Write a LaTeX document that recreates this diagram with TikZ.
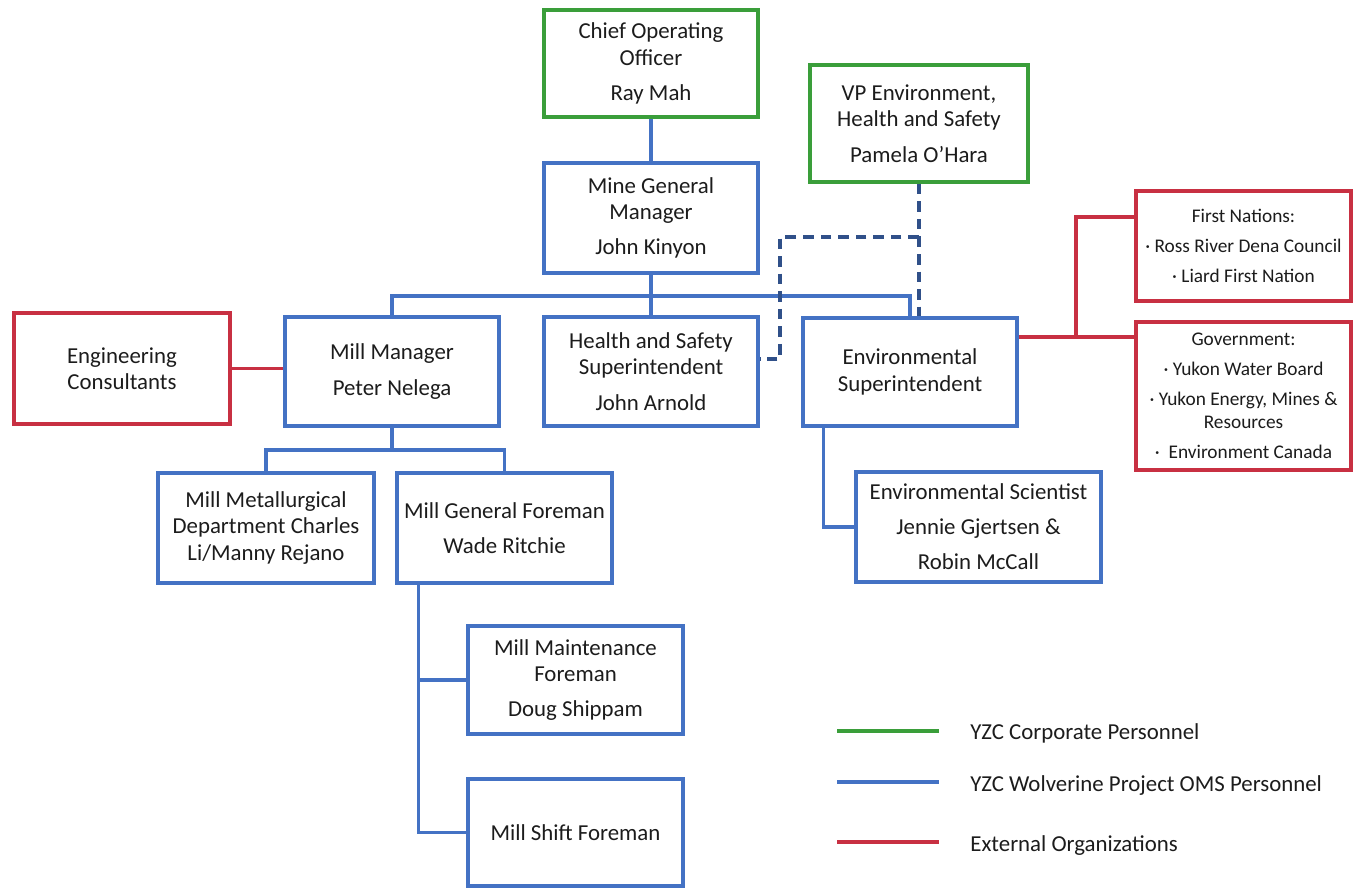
\documentclass[tikz,border=0pt]{standalone}
\usepackage{fontspec}
\setmainfont{Carlito}
\definecolor{cgreen}{RGB}{58,158,58}
\definecolor{cblue}{RGB}{68,114,196}
\definecolor{cred}{RGB}{200,48,66}
\definecolor{ctext}{RGB}{28,28,28}
\begin{document}
\begin{tikzpicture}[x=0.02cm,y=-0.02cm,
  base/.style={rectangle,draw,line width=2pt,inner sep=0pt,align=center,text=ctext,
    font=\fontsize{13}{15}\selectfont},
  gbox/.style={base,draw=cgreen},
  bbox/.style={base,draw=cblue},
  rbox/.style={base,draw=cred},
  sbox/.style={base,draw=cred,font=\fontsize{11}{13.5}\selectfont},
  bl/.style={draw=cblue,line width=2pt},
  gl/.style={draw=cgreen,line width=2pt},
  rl/.style={draw=cred,line width=2pt},
  dl/.style={draw=cblue!70!black,line width=2pt,dash pattern=on 6pt off 4pt},
  legtext/.style={anchor=west,inner sep=0pt,text=ctext,font=\fontsize{13}{15}\selectfont}
]
\useasboundingbox (0,0) rectangle (1358,888);
\fill[white] (0,0) rectangle (1358,888);

% boxes
\node[gbox,minimum width=4.28cm,minimum height=2.14cm] (coo) at (651,63.5) {Chief Operating\\Officer\\[5pt]Ray Mah};
\node[gbox,minimum width=4.36cm,minimum height=2.34cm] (vp) at (919,123.5) {VP Environment,\\Health and Safety\\[5pt]Pamela O’Hara};
\node[bbox,minimum width=4.28cm,minimum height=2.2cm] (mgm) at (651,218) {Mine General\\Manager\\[5pt]John Kinyon};
\node[bbox,minimum width=4.28cm,minimum height=2.18cm] (mm) at (392,371.5) {Mill Manager\\[5pt]Peter Nelega};
\node[bbox,minimum width=4.28cm,minimum height=2.18cm] (hs) at (651,371.5) {Health and Safety\\Superintendent\\[5pt]John Arnold};
\node[bbox,minimum width=4.28cm,minimum height=2.16cm] (env) at (910,372) {Environmental\\Superintendent};
\node[rbox,minimum width=4.32cm,minimum height=2.22cm] (eng) at (122,368.5) {Engineering\\Consultants};
\node[sbox,minimum width=4.3cm,minimum height=2.2cm] (fn) at (1243.5,246) {First Nations:\\[3.5pt]· Ross River Dena Council\\[3.5pt]· Liard First Nation};
\node[sbox,minimum width=4.3cm,minimum height=2.96cm] (gov) at (1243.5,396) {Government:\\[3.5pt]· Yukon Water Board\\[3.5pt]· Yukon Energy, Mines \&\\Resources\\[3.5pt]·\ \ Environment Canada};
\node[bbox,minimum width=4.9cm,minimum height=2.2cm] (es) at (978.5,527) {Environmental Scientist\\[5pt]Jennie Gjertsen \&\\[5pt]Robin McCall};
\node[bbox,minimum width=4.32cm,minimum height=2.2cm] (mmet) at (266,528) {Mill Metallurgical\\Department Charles\\Li/Manny Rejano};
\node[bbox,minimum width=4.3cm,minimum height=2.2cm] (mgf) at (504.5,528) {Mill General Foreman\\[5pt]Wade Ritchie};
\node[bbox,minimum width=4.3cm,minimum height=2.16cm] (maint) at (575.5,680) {Mill Maintenance\\Foreman\\[5pt]Doug Shippam};
\node[bbox,minimum width=4.3cm,minimum height=2.14cm] (shift) at (575.5,832.5) {Mill Shift Foreman};

% blue connectors
\draw[bl] (coo.south) -- (mgm.north);
\draw[bl] (mgm.south) -- (hs.north);
\draw[bl] (mm.north) -- (mm.north |- 0,296) -| (env.north);
\draw[bl] (mm.south) -- (mm.south |- 0,450);
\draw[bl] (mmet.north) -- (mmet.north |- 0,450) -| (mgf.north);
\coordinate (tr) at ([xshift=0.46cm]mgf.south west);
\draw[bl] (tr) -- (tr |- shift.west) -- (shift.west);
\draw[bl] (tr |- maint.west) -- (maint.west);
\coordinate (te) at ([xshift=0.44cm]env.south west);
\draw[bl] (te) -- (te |- es.west) -- (es.west);

% dashed
\draw[dl] (vp.south) -- (vp.south |- env.north);
\coordinate (dk) at (780,359);
\draw[dl] (vp.south |- 0,237) -| (dk) -- (hs.east |- dk);

% red connectors
\draw[rl] (eng.east) -- (mm.west |- eng.east);
\coordinate (rj) at (1076,337);
\draw[rl] (env.east |- rj) -- (gov.west |- rj);
\draw[rl] (rj) |- (fn.west |- 0,217);

% legend
\coordinate (l1) at (837,731);
\coordinate (l2) at (837,782);
\coordinate (l3) at (837,842);
\draw[gl] (l1) -- ++(102,0);
\draw[bl] (l2) -- ++(102,0);
\draw[rl] (l3) -- ++(102,0);
\node[legtext] (t1) at (970,733) {YZC Corporate Personnel};
\node[legtext] (t2) at (970,786) {YZC Wolverine Project OMS Personnel};
\node[legtext] (t3) at (970,846) {External Organizations};
\end{tikzpicture}
\end{document}
